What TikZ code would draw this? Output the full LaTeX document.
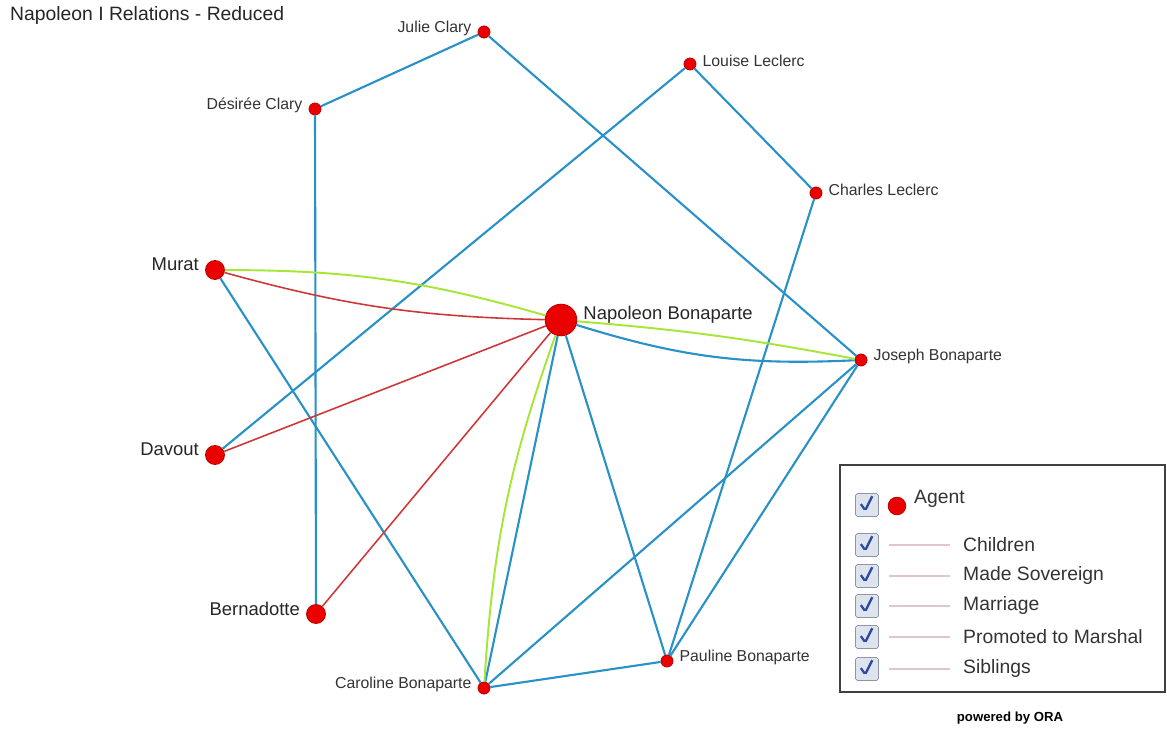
\documentclass[tikz,border=0pt]{standalone}
\usepackage{fontspec}
\setmainfont{Liberation Sans}
\usepackage{tikz}
\usetikzlibrary{positioning, calc}
\definecolor{famblue}{RGB}{40,145,200}
\definecolor{marshred}{RGB}{205,55,55}
\definecolor{sovgreen}{RGB}{165,230,55}
\definecolor{agentred}{RGB}{235,0,0}
\definecolor{agentrim}{RGB}{190,0,0}
\definecolor{chkfill}{RGB}{222,228,238}
\definecolor{chkrim}{RGB}{140,150,168}
\definecolor{tickblue}{RGB}{45,75,160}
\definecolor{legpink}{RGB}{225,200,200}

\begin{document}
\begin{tikzpicture}[x=0.02cm, y=-0.02cm,
  agent/.style={circle, fill=agentred, draw=agentrim, line width=0.5pt, inner sep=0pt, minimum size=6.8pt},
  bigagent/.style={agent, minimum size=10.8pt},
  hubagent/.style={agent, minimum size=18pt},
  lblsmall/.style={font=\fontsize{9}{10}\selectfont, text=black!80, yshift=2pt},
  lblbig/.style={font=\fontsize{10.5}{12}\selectfont, text=black!85, yshift=3pt},
  fam/.style={famblue, line width=1.2pt},
  marsh/.style={marshred, line width=0.9pt},
  sov/.style={sovgreen, line width=1.1pt},
  chkbox/.style={draw=chkrim, fill=chkfill, rounded corners=1pt, minimum size=13pt, inner sep=0pt,
    path picture={\draw[tickblue, line width=1.3pt]
      ($(path picture bounding box.center)+(-3.5pt,0.5pt)$) -- ++(2.5pt,-3.5pt) -- ++(4pt,8pt);}},
  legtxt/.style={font=\fontsize{11}{13}\selectfont, text=black!80, anchor=west},
  legline/.style={legpink, line width=0.8pt}]

\useasboundingbox (0,0) rectangle (1167,729);

%------------------------------------------------
% Titolo
%------------------------------------------------
\node[anchor=west, font=\fontsize{11}{13}\selectfont, text=black!85] (title) at (4,16) {Napoleon I Relations - Reduced};

%------------------------------------------------
% Agenti
%------------------------------------------------
\node[agent, label={[lblsmall]left:Julie Clary}] (julie) at (484,32) {};
\node[agent, label={[lblsmall]left:Désirée Clary}] (desiree) at (315,109) {};
\node[agent, label={[lblsmall]right:Louise Leclerc}] (louise) at (690,64) {};
\node[agent, label={[lblsmall]right:Charles Leclerc}] (charles) at (816,193) {};
\node[bigagent, label={[lblbig]left:Murat}] (murat) at (215,270) {};
\node[hubagent, label={[lblbig]right:Napoleon Bonaparte}] (napoleon) at (561,320) {};
\node[agent, label={[lblsmall]right:Joseph Bonaparte}] (joseph) at (861,360) {};
\node[bigagent, label={[lblbig]left:Davout}] (davout) at (215,455) {};
\node[bigagent, label={[lblbig]left:Bernadotte}] (bernadotte) at (316,614) {};
\node[agent, label={[lblsmall]left:Caroline Bonaparte}] (caroline) at (484,688) {};
\node[agent, label={[lblsmall]right:Pauline Bonaparte}] (pauline) at (667,661) {};

%------------------------------------------------
% Relazioni
%------------------------------------------------
% Famiglia
\draw[fam] (julie) -- (desiree);
\draw[fam] (julie) -- (joseph);
\draw[fam] (desiree) -- (bernadotte);
\draw[fam] (louise) -- (davout);
\draw[fam] (louise) -- (charles);
\draw[fam] (charles) -- (pauline);
\draw[fam] (murat) -- (caroline);
\draw[fam] (napoleon) to[bend right=10] (joseph);
\draw[fam] (napoleon) -- (caroline);
\draw[fam] (napoleon) -- (pauline);
\draw[fam] (joseph) -- (caroline);
\draw[fam] (joseph) -- (pauline);
\draw[fam] (caroline) -- (pauline);

% Marescialli
\draw[marsh] (murat) to[bend right=7] (napoleon);
\draw[marsh] (davout) -- (napoleon);
\draw[marsh] (bernadotte) -- (napoleon);

% Sovrani
\draw[sov] (murat) to[bend left=8] (napoleon);
\draw[sov] (napoleon) to[bend left=3] (joseph);
\draw[sov] (napoleon) to[bend right=8] (caroline);

%------------------------------------------------
% Legenda
%------------------------------------------------
\draw[black!75, line width=1pt] (840,465) rectangle (1165,692);

\node[chkbox] (chkagent) at (867,505) {};
\node[agent, minimum size=10pt] (legdot) at (897,506) {};
\node[legtxt] (legagent) at (908,499) {Agent};

\node[chkbox] (chkchild) at (867,545) {};
\draw[legline] (889,545) -- (950,545);
\node[legtxt] (legchild) at (957,545) {Children};

\node[chkbox] (chksov) at (867,576) {};
\draw[legline] (889,576) -- (950,576);
\node[legtxt] (legsov) at (957,576) {Made Sovereign};

\node[chkbox] (chkmarr) at (867,606) {};
\draw[legline] (889,606) -- (950,606);
\node[legtxt] (legmarr) at (957,606) {Marriage};

\node[chkbox] (chkmarsh) at (867,637) {};
\draw[legline] (889,637) -- (950,637);
\node[legtxt] (legmarsh) at (957,637) {Promoted to Marshal};

\node[chkbox] (chksib) at (867,669) {};
\draw[legline] (889,669) -- (950,669);
\node[legtxt] (legsib) at (957,669) {Siblings};

% Firma
\node[font=\bfseries\fontsize{7.5}{9}\selectfont] (ora) at (1010,718) {powered by ORA};
\end{tikzpicture}
\end{document}
